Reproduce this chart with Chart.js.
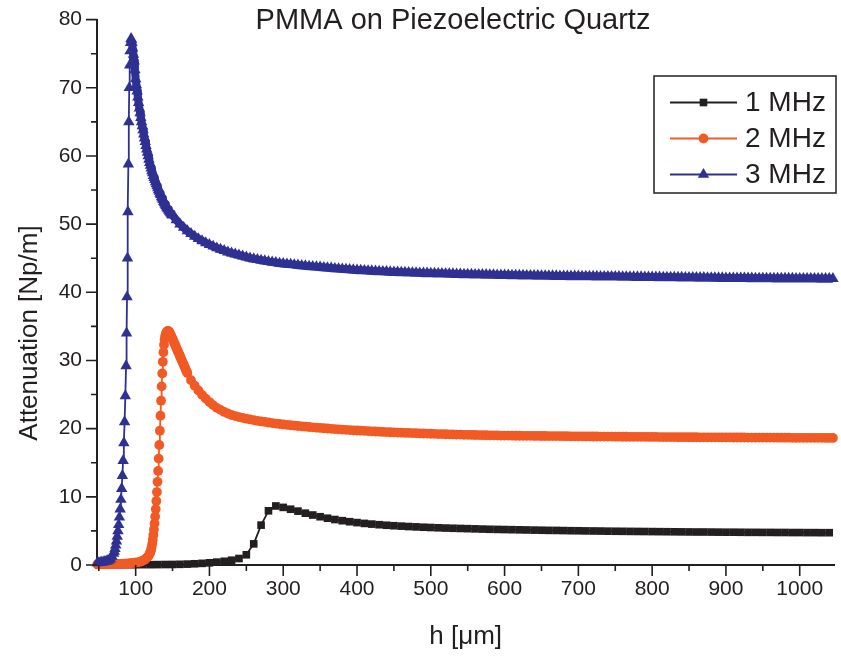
<!DOCTYPE html>
<html>
<head>
<meta charset="utf-8">
<title>PMMA on Piezoelectric Quartz</title>
<script src="https://cdn.jsdelivr.net/npm/chart.js@4.4.1/dist/chart.umd.min.js"></script>
<style>
  html, body { margin: 0; padding: 0; background: #ffffff; }
  canvas { display: block; }
</style>
</head>
<body>
<canvas id="chart" width="841" height="661"></canvas>
<script>
// ---- text ----
const TITLE = 'PMMA on Piezoelectric Quartz';
const X_TITLE = 'h [\u03bcm]';
const Y_TITLE = 'Attenuation [Np/m]';
const SERIES_NAMES = ['1 MHz', '2 MHz', '3 MHz'];

// ---- axis ticks ----
const X_MAJOR = [100, 200, 300, 400, 500, 600, 700, 800, 900, 1000];
const X_MINOR = [50, 150, 250, 350, 450, 550, 650, 750, 850, 950];
const Y_MAJOR = [0, 10, 20, 30, 40, 50, 60, 70, 80];
const Y_MINOR = [5, 15, 25, 35, 45, 55, 65, 75];

// ---- 1 MHz: film thickness h [um] sampled every 10 um from 50 um ----
const H_1MHZ_START = 50, H_1MHZ_STEP = 10;
const ATT_1MHZ = [
  0.02, 0.02, 0.03, 0.03, 0.04, 0.04, 0.05, 0.05, 0.06, 0.07,
  0.08, 0.10, 0.13, 0.18, 0.24, 0.32, 0.42, 0.54, 0.70, 0.95,
  1.50, 3.10, 5.85, 7.95, 8.66, 8.45, 8.18, 7.90, 7.60, 7.33,
  7.08, 6.86, 6.67, 6.50, 6.35, 6.22, 6.10, 6.00, 5.91, 5.83,
  5.76, 5.70, 5.64, 5.59, 5.54, 5.50, 5.46, 5.42, 5.39, 5.36,
  5.33, 5.30, 5.27, 5.24, 5.22, 5.20, 5.18, 5.16, 5.14, 5.12,
  5.10, 5.08, 5.07, 5.05, 5.03, 5.02, 5.00, 4.99, 4.98, 4.96,
  4.95, 4.94, 4.93, 4.92, 4.91, 4.90, 4.89, 4.88, 4.87, 4.86,
  4.85, 4.84, 4.84, 4.83, 4.82, 4.81, 4.81, 4.80, 4.79, 4.79,
  4.78, 4.78, 4.77, 4.77, 4.76, 4.76, 4.75, 4.75, 4.74, 4.74
];

// ---- 2 MHz ----
const H_2MHZ_RISE = [
  48, 51, 54, 57, 60, 63, 66, 69, 72, 75, 78, 81, 84, 87, 90, 93, 96, 99,
  102, 105, 108, 110, 112, 114, 116, 117, 118, 119, 120,
  120.8, 121.6, 122.4, 123.2, 124, 124.8, 125.6, 126.4, 127.2, 128, 128.8, 129.6,
  130.4, 131.2, 132, 132.8, 133.6, 134.4, 135.2, 136, 136.8, 137.6, 138.4, 139.2, 140
];
const ATT_2MHZ_RISE = [
  0.10, 0.10, 0.10, 0.11, 0.11, 0.12, 0.12, 0.13, 0.14, 0.15, 0.16, 0.17, 0.19, 0.21, 0.23, 0.26, 0.29, 0.33,
  0.38, 0.45, 0.55, 0.65, 0.78, 0.95, 1.15, 1.3, 1.45, 1.65, 1.9,
  2.2, 2.6, 3.1, 3.7, 4.4, 5.2, 6.1, 7.1, 8.2, 9.4, 10.7, 12.2,
  13.8, 15.6, 17.6, 19.7, 21.9, 24.1, 26.2, 28.1, 29.8, 31.2, 32.3, 33.1, 33.6
];
// 141 ... 170 um, 1 um apart
const H_2MHZ_PEAK_START = 141, H_2MHZ_PEAK_STEP = 1;
const ATT_2MHZ_PEAK = [
  34.0, 34.2, 34.3, 34.32, 34.25, 34.1, 33.9, 33.65, 33.4, 33.15,
  32.9, 32.65, 32.4, 32.15, 31.9, 31.65, 31.4, 31.15, 30.9, 30.65,
  30.4, 30.15, 29.9, 29.65, 29.4, 29.15, 28.9, 28.65, 28.4, 28.15
];
// 175 ... 1045 um, 5 um apart
const H_2MHZ_TAIL_START = 175, H_2MHZ_TAIL_STEP = 5;
const ATT_2MHZ_TAIL = [
  27.1, 26.3, 25.6, 24.95, 24.4, 23.9, 23.45, 23.05, 22.75, 22.45,
  22.22, 22.0, 21.85, 21.7, 21.58, 21.46, 21.35, 21.25, 21.15, 21.06,
  20.98, 20.9, 20.82, 20.75, 20.68, 20.62, 20.56, 20.5, 20.44, 20.39,
  20.34, 20.29, 20.24, 20.19, 20.14, 20.1, 20.06, 20.02, 19.98, 19.94,
  19.9, 19.86, 19.82, 19.79, 19.76, 19.73, 19.7, 19.67, 19.64, 19.61,
  19.58, 19.55, 19.52, 19.5, 19.47, 19.45, 19.43, 19.41, 19.39, 19.37,
  19.35, 19.33, 19.31, 19.29, 19.27, 19.25, 19.23, 19.21, 19.2, 19.18,
  19.16, 19.15, 19.13, 19.12, 19.1, 19.09, 19.08, 19.07, 19.05, 19.04,
  19.03, 19.02, 19.01, 19.0, 18.99, 18.98, 18.98, 18.97, 18.96, 18.96,
  18.95, 18.94, 18.94, 18.93, 18.93, 18.92, 18.92, 18.91, 18.91, 18.9,
  18.9, 18.89, 18.89, 18.88, 18.88, 18.87, 18.87, 18.86, 18.86, 18.85,
  18.85, 18.84, 18.84, 18.83, 18.83, 18.82, 18.82, 18.81, 18.81, 18.8,
  18.8, 18.8, 18.79, 18.79, 18.78, 18.78, 18.78, 18.77, 18.77, 18.76,
  18.76, 18.76, 18.75, 18.75, 18.75, 18.74, 18.74, 18.74, 18.73, 18.73,
  18.73, 18.72, 18.72, 18.72, 18.71, 18.71, 18.71, 18.7, 18.7, 18.7,
  18.7, 18.69, 18.69, 18.69, 18.69, 18.68, 18.68, 18.68, 18.68, 18.67,
  18.67, 18.67, 18.67, 18.66, 18.66, 18.66, 18.66, 18.65, 18.65, 18.65,
  18.65, 18.65, 18.64, 18.64, 18.64
];

// ---- 3 MHz ----
const H_3MHZ_RISE = [
  48, 50, 52, 54, 56, 58, 60, 62, 64, 66, 68, 70,
  71, 72, 73, 74, 75, 76, 77, 78, 79, 80, 81, 82, 83, 84, 85, 86, 87,
  87.7, 88.3, 88.9, 89.5, 90.1, 90.7, 91.3, 91.9, 92.5, 93.1, 93.8, 94.4
];
const ATT_3MHZ_RISE = [
  0.30, 0.32, 0.35, 0.38, 0.42, 0.47, 0.53, 0.61, 0.72, 0.90, 1.25, 1.7,
  2.0, 2.4, 2.9, 3.5, 4.2, 5.0, 5.9, 7.0, 8.2, 9.6, 11.2, 13.1, 15.3, 17.9, 21.0, 24.8, 29.2,
  34.0, 39.3, 45.0, 51.8, 58.8, 65.0, 70.0, 73.3, 75.4, 76.6, 77.2, 77.0
];
// 95 ... 150 um, 1 um apart
const H_3MHZ_PEAK_START = 95, H_3MHZ_PEAK_STEP = 1;
const ATT_3MHZ_PEAK = [
  76.6, 75.8, 74.9, 73.9, 72.6, 71.3, 70.4, 69.5, 68.6, 67.8,
  67.0, 66.3, 65.6, 65.0, 64.4, 63.8, 63.2, 62.6, 62.1, 61.5,
  61.0, 60.5, 60.0, 59.5, 59.0, 58.6, 58.2, 57.8, 57.5, 57.1,
  56.8, 56.5, 56.2, 55.9, 55.6, 55.3, 55.0, 54.8, 54.5, 54.3,
  54.0, 53.8, 53.6, 53.3, 53.1, 52.9, 52.7, 52.5, 52.35, 52.2,
  52.0, 51.85, 51.7, 51.55, 51.4, 51.3
];
// 155 ... 1045 um, 5 um apart
const H_3MHZ_TAIL_START = 155, H_3MHZ_TAIL_STEP = 5;
const ATT_3MHZ_TAIL = [
  50.6, 50.0, 49.5, 49.0, 48.6, 48.2, 47.85, 47.55, 47.25, 47.0,
  46.75, 46.5, 46.3, 46.1, 45.9, 45.75, 45.6, 45.45, 45.3, 45.15,
  45.0, 44.9, 44.8, 44.7, 44.6, 44.5, 44.42, 44.34, 44.26, 44.2,
  44.15, 44.1, 44.04, 43.98, 43.92, 43.87, 43.82, 43.77, 43.73, 43.69,
  43.64, 43.59, 43.54, 43.49, 43.45, 43.41, 43.37, 43.33, 43.29, 43.25,
  43.22, 43.19, 43.16, 43.13, 43.1, 43.07, 43.05, 43.02, 42.99, 42.97,
  42.95, 42.93, 42.91, 42.89, 42.87, 42.85, 42.83, 42.81, 42.8, 42.78,
  42.77, 42.75, 42.74, 42.72, 42.71, 42.69, 42.68, 42.66, 42.65, 42.63,
  42.62, 42.61, 42.6, 42.59, 42.58, 42.57, 42.56, 42.54, 42.53, 42.52,
  42.51, 42.5, 42.49, 42.48, 42.47, 42.46, 42.45, 42.44, 42.44, 42.43,
  42.42, 42.41, 42.4, 42.4, 42.39, 42.38, 42.37, 42.37, 42.36, 42.36,
  42.35, 42.35, 42.34, 42.33, 42.33, 42.32, 42.31, 42.31, 42.3, 42.3,
  42.29, 42.28, 42.28, 42.27, 42.26, 42.26, 42.25, 42.24, 42.24, 42.23,
  42.22, 42.22, 42.21, 42.2, 42.2, 42.19, 42.18, 42.18, 42.17, 42.16,
  42.16, 42.15, 42.14, 42.14, 42.13, 42.13, 42.12, 42.11, 42.11, 42.1,
  42.1, 42.09, 42.09, 42.08, 42.08, 42.07, 42.07, 42.06, 42.06, 42.05,
  42.05, 42.05, 42.04, 42.04, 42.04, 42.03, 42.03, 42.03, 42.02, 42.02,
  42.02, 42.01, 42.01, 42.01, 42.0, 42.0, 42.0, 42.0, 42.0
];

// ---- style ----
const FONT = '"Liberation Sans", Arial, Helvetica, sans-serif';
const INK = '#231f20';
const COLORS = ['#231f20', '#f15a24', '#2e3192'];
const POINT_STYLES = ['rect', 'circle', 'triangle'];
const POINT_RADII = [5.4, 4.9, 6.6];
// where a curve's markers crowd into a solid band, the joining line is drawn wider
const BAND_FROM = [Infinity, 141, 95];
const BAND_WIDTH = [1.8, 1.8, 8];

// pair explicit thickness values with attenuation values
function paired(hs, vals) {
  return hs.map((h, i) => ({ x: h, y: vals[i] }));
}
// attenuation values taken on an evenly spaced thickness grid
function gridded(start, step, vals) {
  return vals.map((v, i) => ({ x: Math.round((start + i * step) * 100) / 100, y: v }));
}

const series = [
  gridded(H_1MHZ_START, H_1MHZ_STEP, ATT_1MHZ),
  paired(H_2MHZ_RISE, ATT_2MHZ_RISE)
    .concat(gridded(H_2MHZ_PEAK_START, H_2MHZ_PEAK_STEP, ATT_2MHZ_PEAK))
    .concat(gridded(H_2MHZ_TAIL_START, H_2MHZ_TAIL_STEP, ATT_2MHZ_TAIL)),
  paired(H_3MHZ_RISE, ATT_3MHZ_RISE)
    .concat(gridded(H_3MHZ_PEAK_START, H_3MHZ_PEAK_STEP, ATT_3MHZ_PEAK))
    .concat(gridded(H_3MHZ_TAIL_START, H_3MHZ_TAIL_STEP, ATT_3MHZ_TAIL))
];

const datasets = series.map((pts, i) => ({
  label: SERIES_NAMES[i],
  data: pts,
  borderColor: COLORS[i],
  backgroundColor: COLORS[i],
  borderWidth: 1.8,
  segment: {
    borderWidth: c => (c.p0.parsed.x >= BAND_FROM[i] ? BAND_WIDTH[i] : 1.8)
  },
  borderJoinStyle: 'round',
  pointStyle: POINT_STYLES[i],
  pointRadius: POINT_RADII[i],
  pointBorderWidth: 0,
  pointBackgroundColor: COLORS[i],
  pointBorderColor: COLORS[i],
  pointHoverRadius: POINT_RADII[i],
  tension: 0,
  clip: false,
  order: 2 - i
}));

// outward ticks, title, axis titles and the boxed legend
const decorations = {
  id: 'decorations',
  afterDraw(chart) {
    const { ctx, chartArea: a, scales: { x, y } } = chart;
    ctx.save();
    ctx.strokeStyle = INK;
    ctx.lineWidth = 1.6;
    ctx.beginPath();
    const xt = (v, len) => { const p = x.getPixelForValue(v); ctx.moveTo(p, a.bottom); ctx.lineTo(p, a.bottom + len); };
    const yt = (v, len) => { const p = y.getPixelForValue(v); ctx.moveTo(a.left, p); ctx.lineTo(a.left - len, p); };
    X_MAJOR.forEach(v => xt(v, 11));
    X_MINOR.forEach(v => xt(v, 6));
    Y_MAJOR.forEach(v => yt(v, 11));
    Y_MINOR.forEach(v => yt(v, 6));
    ctx.stroke();

    ctx.fillStyle = INK;
    ctx.textAlign = 'center';
    ctx.textBaseline = 'middle';
    ctx.font = '29px ' + FONT;
    ctx.fillText(TITLE, 453, 21);
    ctx.font = '26px ' + FONT;
    ctx.fillText(X_TITLE, (a.left + a.right) / 2, 637);
    ctx.save();
    ctx.translate(30, 333);
    ctx.rotate(-Math.PI / 2);
    ctx.fillText(Y_TITLE, 0, 0);
    ctx.restore();

    // legend box
    const box = { left: 654, top: 76, right: 836, bottom: 193 };
    ctx.lineWidth = 1.5;
    ctx.strokeStyle = INK;
    ctx.strokeRect(box.left, box.top, box.right - box.left, box.bottom - box.top);
    ctx.font = '28px ' + FONT;
    ctx.textAlign = 'left';
    chart.data.datasets.forEach((ds, i) => {
      const cy = 102.5 + i * 36;
      ctx.strokeStyle = ds.borderColor;
      ctx.fillStyle = ds.borderColor;
      ctx.lineWidth = 1.8;
      ctx.beginPath();
      ctx.moveTo(670, cy);
      ctx.lineTo(737, cy);
      ctx.stroke();
      Chart.helpers.drawPoint(ctx, { pointStyle: ds.pointStyle, radius: ds.pointRadius, rotation: 0, borderWidth: 0 }, 703.5, cy);
      ctx.fillStyle = INK;
      ctx.fillText(ds.label, 745, cy + 1);
    });
    ctx.restore();
  }
};

const tickFont = { family: FONT, size: 21 };

new Chart(document.getElementById('chart'), {
  type: 'line',
  data: { datasets },
  options: {
    responsive: false,
    animation: false,
    devicePixelRatio: 1,
    events: [],
    layout: { padding: { top: 17, right: 0, bottom: 0, left: 0 } },
    plugins: { legend: { display: false }, tooltip: { enabled: false }, title: { display: false } },
    scales: {
      x: {
        type: 'linear',
        min: 47.6,
        max: 1047,
        afterFit(s) { s.height = 96; },
        afterBuildTicks(s) { s.ticks = X_MAJOR.concat(X_MINOR).sort((p, q) => p - q).map(v => ({ value: v })); },
        grid: { display: false },
        border: { display: true, color: INK, width: 2 },
        ticks: {
          autoSkip: false, maxRotation: 0, padding: 4, color: INK, font: tickFont,
          callback: v => (X_MAJOR.includes(v) ? String(v) : '')
        }
      },
      y: {
        type: 'linear',
        min: 0,
        max: 80,
        afterFit(s) { s.width = 97; },
        afterBuildTicks(s) { s.ticks = Y_MAJOR.concat(Y_MINOR).sort((p, q) => p - q).map(v => ({ value: v })); },
        grid: { display: false },
        border: { display: true, color: INK, width: 2 },
        ticks: {
          autoSkip: false, padding: 7, color: INK, font: tickFont,
          callback: v => (Y_MAJOR.includes(v) ? String(v) : '')
        }
      }
    }
  },
  plugins: [decorations]
});
</script>
</body>
</html>
